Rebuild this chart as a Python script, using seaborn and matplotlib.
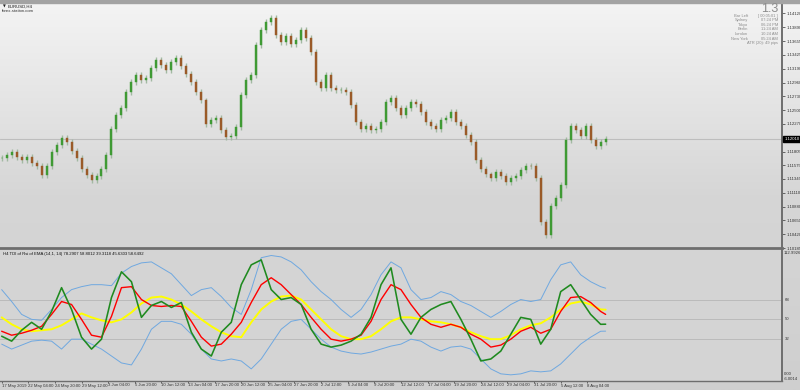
import numpy as np
import matplotlib
matplotlib.use("Agg")
import matplotlib.pyplot as plt
import matplotlib.transforms as mtransforms
from matplotlib.colors import LinearSegmentedColormap
import seaborn as sns

# ---------------- data ----------------
closes = [
    1.1169, 1.1174, 1.1179, 1.1172, 1.1166, 1.1171, 1.1162, 1.1157, 1.1141, 1.1157,
    1.1179, 1.1191, 1.1203, 1.1196, 1.1182, 1.1169, 1.1152, 1.1141, 1.1132, 1.1139,
    1.1152, 1.1174, 1.1219, 1.1241, 1.1253, 1.1280, 1.1297, 1.1308, 1.1300, 1.1303,
    1.1320, 1.1334, 1.1325, 1.1317, 1.1330, 1.1337, 1.1324, 1.1310, 1.1297, 1.1280,
    1.1266, 1.1226, 1.1233, 1.1236, 1.1216, 1.1204, 1.1206, 1.1221, 1.1275, 1.1300,
    1.1308, 1.1359, 1.1384, 1.1397, 1.1404, 1.1376, 1.1364, 1.1374, 1.1361, 1.1367,
    1.1384, 1.1371, 1.1347, 1.1297, 1.1287, 1.1308, 1.1287, 1.1283, 1.1283, 1.1280,
    1.1258, 1.1230, 1.1219, 1.1224, 1.1216, 1.1219, 1.1230, 1.1263, 1.1270, 1.1253,
    1.1241, 1.1253, 1.1263, 1.1260, 1.1246, 1.1230, 1.1223, 1.1219, 1.1233, 1.1236,
    1.1246, 1.1230, 1.1223, 1.1208, 1.1196, 1.1166, 1.1152, 1.1142, 1.1136, 1.1146,
    1.1139, 1.1129, 1.1136, 1.1139, 1.1149, 1.1157, 1.1156, 1.1136, 1.1062, 1.1040,
    1.1090, 1.1102, 1.1124, 1.1199, 1.1224, 1.1216, 1.1206, 1.1223, 1.1199, 1.1189,
    1.1196, 1.1202,
]
bars_per_candle = 3

price_ticks = [1.10185, 1.10420, 1.10650, 1.10880, 1.11110, 1.11345, 1.11575, 1.11805,
               1.12035, 1.12270, 1.12500, 1.12730, 1.12960, 1.13190, 1.13425, 1.13655,
               1.13890, 1.14120]
price_tick_labels = ["1.10185", "1.10420", "1.10650", "1.10880", "1.11110", "1.11345",
                     "1.11575", "1.11805", "", "1.12270", "1.12500", "1.12730", "1.12960",
                     "1.13190", "1.13425", "1.13655", "1.13890", "1.14120"]
current_price_label = "1.12010"

date_labels = ["17 May 2019", "22 May 04:00", "24 May 20:00", "29 May 12:00", "3 Jun 04:00",
               "5 Jun 20:00", "10 Jun 12:00", "13 Jun 04:00", "17 Jun 20:00", "20 Jun 12:00",
               "25 Jun 04:00", "27 Jun 20:00", "2 Jul 12:00", "5 Jul 04:00", "9 Jul 20:00",
               "12 Jul 12:00", "17 Jul 04:00", "19 Jul 20:00", "24 Jul 12:00", "29 Jul 04:00",
               "31 Jul 20:00", "5 Aug 12:00", "8 Aug 04:00"]
date_tick_bars = [16 * k for k in range(len(date_labels))]

ind_bar = list(range(0, 361, 6)) + [363]
ind_upper = [77.0, 66.2, 54.5, 50.0, 49.1, 59.0, 69.8, 77.0, 79.7, 81.5,
             81.5, 80.6, 92.0, 98.0, 101.3, 102.2, 96.8, 91.4, 81.5, 71.6,
             77.0, 78.8, 70.7, 60.8, 54.5, 77.0, 106.0, 108.0, 106.7, 102.2,
             95.0, 84.2, 75.2, 68.0, 59.0, 51.8, 59.0, 72.5, 90.5, 102.2,
             96.8, 77.0, 68.0, 69.8, 75.2, 72.5, 66.2, 62.6, 57.2, 51.8,
             57.2, 63.5, 68.0, 66.2, 68.0, 86.0, 99.5, 102.2, 90.5, 84.2,
             79.7, 78.3]
ind_lower = [27.5, 23.0, 26.6, 30.2, 31.1, 30.2, 23.0, 32.0, 32.0, 27.5,
             23.0, 16.7, 10.4, 8.6, 23.0, 41.0, 48.2, 48.2, 45.5, 36.5,
             23.0, 14.0, 12.2, 14.0, 12.2, 5.0, 14.0, 27.5, 41.0, 48.2,
             50.0, 41.0, 32.0, 24.8, 21.2, 19.4, 18.5, 20.3, 23.0, 25.7,
             27.5, 32.0, 30.2, 24.8, 21.2, 24.8, 25.7, 23.0, 14.0, 5.0,
             0.5, -0.4, 0.5, 3.2, 2.3, 3.2, 9.5, 18.5, 27.5, 33.8,
             39.2, 39.3]
ind_base = [51.8, 45.5, 41.0, 39.2, 40.1, 41.0, 44.6, 50.0, 55.4, 51.8,
            49.1, 47.3, 50.0, 56.3, 64.4, 69.8, 70.7, 68.0, 63.5, 57.2,
            50.0, 43.7, 38.3, 34.7, 33.8, 47.3, 59.0, 66.2, 70.7, 71.6,
            68.0, 59.0, 50.0, 41.0, 34.7, 32.0, 32.0, 34.7, 41.0, 48.2,
            51.8, 51.8, 50.0, 48.2, 47.3, 45.5, 42.8, 38.3, 34.7, 32.0,
            32.0, 35.6, 41.0, 44.6, 46.4, 51.8, 59.0, 64.4, 66.2, 63.5,
            59.0, 58.8]
ind_rsi = [34.7, 30.2, 40.1, 47.3, 41.0, 57.2, 78.8, 59.0, 33.8, 23.0,
           32.0, 69.8, 93.2, 84.2, 51.8, 62.6, 66.2, 60.8, 65.3, 38.3,
           23.0, 16.7, 38.3, 47.3, 81.5, 99.5, 104.0, 77.0, 68.0, 69.8,
           63.5, 41.0, 27.5, 24.8, 26.6, 30.2, 36.5, 51.8, 81.5, 96.8,
           50.0, 36.5, 51.8, 59.0, 63.5, 66.2, 50.0, 32.0, 12.2, 14.0,
           21.2, 36.5, 51.8, 50.0, 27.5, 41.0, 75.2, 81.5, 68.0, 54.5,
           45.5, 45.6]
ind_signal = [39.2, 35.6, 37.4, 40.1, 43.7, 54.5, 66.2, 63.5, 50.0, 35.6,
              33.8, 52.7, 78.8, 79.7, 68.0, 62.6, 61.7, 62.6, 61.7, 48.2,
              33.8, 25.7, 27.5, 36.5, 47.3, 65.3, 81.5, 87.8, 81.5, 72.5,
              63.5, 51.8, 41.0, 32.0, 30.2, 32.0, 35.6, 48.2, 68.0, 81.5,
              77.0, 63.5, 51.8, 45.5, 42.8, 45.5, 42.8, 36.5, 32.0, 24.8,
              26.6, 32.0, 39.2, 42.8, 37.4, 41.0, 57.2, 69.8, 70.7, 65.3,
              57.2, 54.5]
levels = [68, 50, 32]
ind_title = "H4 TDI of Rsi of EMA (14,1, 14) 78.2907 58.8012 39.3118 45.6303 58.6492"

# ---------------- figure ----------------
sns.set_theme(style="white")
plt.rcParams["font.family"] = ["Liberation Sans", "DejaVu Sans"]

W, H = 800, 390
FS = 3.1
fig = plt.figure(figsize=(8, 3.9), dpi=100)
fig.patch.set_facecolor("#dcdcdc")


def fx(x):
    return x / W


def fy(y):
    return 1 - y / H


bg = fig.add_axes([0, 0, 1, 1], zorder=-10)
grad = np.linspace(0, 1, 256).reshape(-1, 1)
cmap = LinearSegmentedColormap.from_list("g", ["#f4f4f4", "#d6d6d6", "#cfcfcf"])
bg.imshow(grad, aspect="auto", cmap=cmap, extent=[0, 1, 0, 1])
bg.set_axis_off()
fig.add_artist(plt.Rectangle((0, fy(3.0)), 1, 1 - fy(3.0), transform=fig.transFigure,
                             color="#a3a3a3", zorder=5))

ax = fig.add_axes([0, fy(248.5), fx(782), fy(4) - fy(248.5)])
ax.set_facecolor("none")
ax2 = fig.add_axes([0, fy(381), fx(782), fy(250) - fy(381)], sharex=ax)
ax2.set_facecolor("#d4d4d4")

# candles
n = len(closes)
cx = np.arange(n) * bars_per_candle
opens = [closes[0]] + closes[:-1]
pad = 0.0005
highs = [max(o, c) + pad for o, c in zip(opens, closes)]
lows = [min(o, c) - pad for o, c in zip(opens, closes)]
ax.vlines(cx, lows, highs, color="#a2b9a2", lw=1.0, zorder=2)
heights = [c - o if abs(c - o) > 0.00004 else 0.00004 for o, c in zip(opens, closes)]
colors = ["#3f9a34" if c >= o else "#9a5a28" for o, c in zip(opens, closes)]
ax.bar(cx, heights, bottom=opens, width=1.2, color=colors, edgecolor=colors,
       linewidth=0.3, zorder=3)
ax.axhline(closes[-1], color="#bdbdbd", lw=0.8, zorder=1)

ax.set_xlim(-1, 469)
ax.set_ylim(1.10180, 1.14277)
ax.set_yticks(price_ticks)
ax.set_yticklabels(price_tick_labels)
ax.yaxis.tick_right()
ax.tick_params(axis="y", which="both", right=True, left=False, labelright=True,
               labelleft=False, length=2, width=0.5, labelsize=FS, pad=1.0,
               colors="#333333")
ax.tick_params(axis="x", bottom=False, labelbottom=False)
for s in ["top", "left"]:
    ax.spines[s].set_visible(False)
ax.spines["right"].set_color("#6e6e6e")
ax.spines["right"].set_linewidth(1.4)
ax.spines["bottom"].set_color("#6e6e6e")
ax.spines["bottom"].set_linewidth(2.0)

ax.text(1.003, closes[-1], current_price_label,
        transform=mtransforms.blended_transform_factory(ax.transAxes, ax.transData),
        fontsize=FS, color="white", va="center", ha="left", clip_on=False, zorder=10,
        bbox=dict(boxstyle="square,pad=0.25", fc="black", ec="black"))

# indicator
for lv in levels:
    ax2.axhline(lv, color="#9a9a9a", lw=0.6, ls=(0, (1.2, 1.2)), zorder=1)
sns.lineplot(x=ind_bar, y=ind_upper, ax=ax2, color="#6fa8e0", lw=0.7, estimator=None, sort=False)
sns.lineplot(x=ind_bar, y=ind_lower, ax=ax2, color="#6fa8e0", lw=0.7, estimator=None, sort=False)
sns.lineplot(x=ind_bar, y=ind_base, ax=ax2, color="#ffff00", lw=1.4, estimator=None, sort=False)
sns.lineplot(x=ind_bar, y=ind_signal, ax=ax2, color="#ff0000", lw=1.0, estimator=None, sort=False)
sns.lineplot(x=ind_bar, y=ind_rsi, ax=ax2, color="#1f8a1f", lw=1.15, estimator=None, sort=False)

ax2.set_ylim(-6, 113)
ax2.set_yticks([])
ax2.set_ylabel("")
ax2.set_xticks(date_tick_bars)
ax2.set_xticklabels(date_labels)
ax2.tick_params(axis="x", bottom=True, length=1.5, width=0.5, labelsize=FS, pad=0.3,
                colors="#333333", direction="out")
for lab in ax2.get_xticklabels():
    lab.set_horizontalalignment("left")
ax2.spines["top"].set_visible(False)
ax2.spines["left"].set_visible(False)
ax2.spines["right"].set_color("#6e6e6e")
ax2.spines["right"].set_linewidth(1.4)
ax2.spines["bottom"].set_color("#6e6e6e")
ax2.spines["bottom"].set_linewidth(1.0)

tr2 = mtransforms.blended_transform_factory(ax2.transAxes, ax2.transData)
for lv in levels:
    ax2.text(1.004, lv, str(lv), transform=tr2, fontsize=FS, va="center", ha="left",
             color="#333333", clip_on=False)
fig.text(fx(784), fy(253.5), "112.9926", fontsize=FS, va="center", ha="left", color="#333333")
fig.text(fx(784), fy(374), "0.00", fontsize=FS, va="center", ha="left", color="#333333")
fig.text(fx(784), fy(378.5), "-6.0014", fontsize=FS, va="center", ha="left", color="#333333")
fig.text(fx(3), fy(254), ind_title, fontsize=FS, va="center", ha="left", color="#111111")

# header texts
fig.text(fx(2.5), fy(7), "\u25bc", fontsize=2.6, va="center", ha="left", color="#222222",
         family="DejaVu Sans", zorder=6)
fig.text(fx(8), fy(7), "EURUSD,H4", fontsize=FS, va="center", ha="left", color="#111111",
         zorder=6)
fig.text(fx(2), fy(11.5), "forex-station.com", fontsize=FS, va="center", ha="left",
         color="#333333", zorder=6)

fig.text(fx(778), fy(8.5), "1.3", fontsize=9, va="center", ha="right", color="#8c8c8c",
         zorder=6)
info_labels = ["Bar Left", "Sydney", "Tokyo", "Berlin", "London", "New York"]
info_values = ["[ 00:05:01 ]", "07:24 PM", "06:24 PM", "11:24 AM", "10:24 AM", "05:24 AM"]
rows = [15.9, 20.4, 25.0, 29.5, 34.0, 38.6]
for lab, val, yy in zip(info_labels, info_values, rows):
    fig.text(fx(748), fy(yy), lab, fontsize=2.9, va="center", ha="right", color="#8c8c8c")
    fig.text(fx(778), fy(yy), val, fontsize=2.9, va="center", ha="right", color="#8c8c8c")
fig.text(fx(778), fy(43.3), "ATR (20): 49 pips", fontsize=2.9, va="center", ha="right",
         color="#8c8c8c")

fig.savefig("out.png", dpi=100, facecolor=fig.get_facecolor())
